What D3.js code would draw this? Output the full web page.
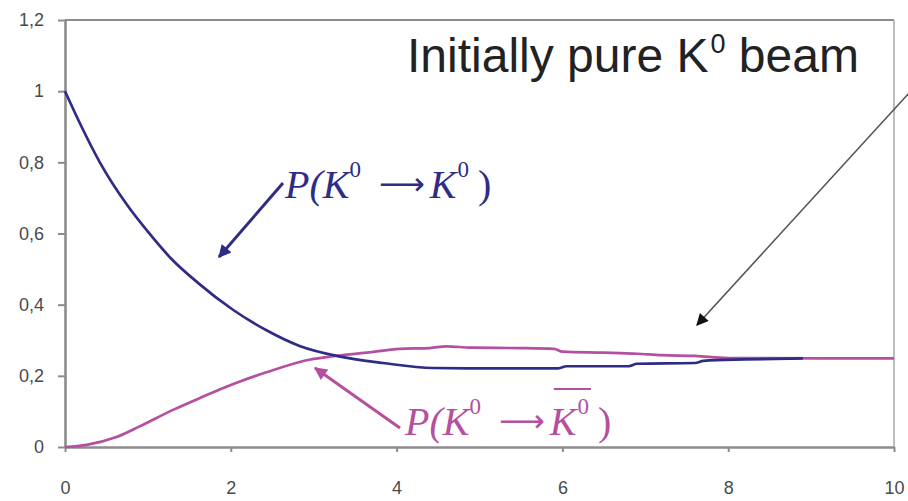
<!DOCTYPE html>
<html>
<head>
<meta charset="utf-8">
<script src="https://cdn.jsdelivr.net/npm/d3@7"></script>
<style>
  html, body { margin: 0; padding: 0; background: #ffffff; }
  svg { display: block; }
</style>
</head>
<body>
<svg id="chart" width="908" height="501"></svg>
<script>
// Time axis (units of K_S lifetime) and tick labels
const xTicks = [0, 2, 4, 6, 8, 10];
const xTickLabels = ["0", "2", "4", "6", "8", "10"];
const yTicks = [0, 0.2, 0.4, 0.6, 0.8, 1, 1.2];
const yTickLabels = ["0", "0,2", "0,4", "0,6", "0,8", "1", "1,2"];

// P(K0 -> K0)
const tSame = [0, 0.2, 0.42, 0.75, 1.0, 1.27, 1.6, 2.03, 2.43, 2.83, 3.32, 3.84, 4.44, 5.0, 5.95, 6.05, 6.8, 6.9, 7.6, 7.7, 8.2, 8.9];
const pSame = [1.0, 0.9, 0.8, 0.68, 0.605, 0.532, 0.462, 0.385, 0.328, 0.284, 0.254, 0.236, 0.222, 0.221, 0.221, 0.227, 0.227, 0.234, 0.236, 0.242, 0.246, 0.249];

// P(K0 -> K0bar)
const tMix = [0, 0.26, 0.62, 0.9, 1.31, 1.63, 2.03, 2.43, 2.96, 3.23, 3.64, 4.04, 4.4, 4.6, 4.9, 5.5, 5.9, 6.0, 6.5, 6.9, 7.2, 7.6, 8.0, 10];
const pMix = [0, 0.006, 0.028, 0.058, 0.105, 0.138, 0.177, 0.21, 0.246, 0.255, 0.265, 0.276, 0.278, 0.283, 0.279, 0.278, 0.276, 0.268, 0.265, 0.262, 0.258, 0.256, 0.25, 0.249];

const svg = d3.select("#chart");
const x = d3.scaleLinear().domain([0, 10]).range([65, 894]);
const y = d3.scaleLinear().domain([0, 1.2]).range([447, 20]);

const axisColor = "#8c8c8c";
const navy = "#2f2c86";
const magenta = "#b4509f";

// arrow heads
const defs = svg.append("defs");
function marker(id, color, w, h) {
  defs.append("marker")
    .attr("id", id)
    .attr("viewBox", "0 0 10 10")
    .attr("refX", 9).attr("refY", 5)
    .attr("markerUnits", "userSpaceOnUse")
    .attr("markerWidth", w).attr("markerHeight", h)
    .attr("orient", "auto")
    .append("path")
    .attr("d", "M0,0 L10,5 L0,10 Z")
    .attr("fill", color);
}
marker("headNavy", navy, 15, 13);
marker("headMag", magenta, 15, 13);
marker("headGray", "#111", 14, 12);

// frame: top and right borders
svg.append("line").attr("x1", x(0)).attr("x2", x(10)).attr("y1", y(1.2)).attr("y2", y(1.2))
  .attr("stroke", axisColor).attr("stroke-width", 2);
svg.append("line").attr("x1", x(10)).attr("x2", x(10)).attr("y1", y(1.2)).attr("y2", y(0))
  .attr("stroke", "#a8a8a8").attr("stroke-width", 1.5);

// axes
const yAxis = d3.axisLeft(y).tickValues(yTicks)
  .tickFormat((d, i) => yTickLabels[i]).tickSize(7).tickSizeOuter(0).tickPadding(14);
const xAxis = d3.axisBottom(x).tickValues(xTicks)
  .tickFormat((d, i) => xTickLabels[i]).tickSize(5).tickSizeOuter(0).tickPadding(29);

const gy = svg.append("g").attr("transform", `translate(${x(0)},0)`).call(yAxis);
const gx = svg.append("g").attr("transform", `translate(0,${y(0)})`).call(xAxis);
[gx, gy].forEach(g => {
  g.select(".domain").attr("stroke", axisColor).attr("stroke-width", 2.6);
  g.selectAll(".tick line").attr("stroke", axisColor).attr("stroke-width", 2);
  g.selectAll(".tick text")
    .attr("fill", "#4a4a4a")
    .attr("font-family", "'Liberation Sans', Arial, sans-serif")
    .attr("font-size", 18);
});

// curves
const line = d3.line().x(d => x(d[0])).y(d => y(d[1])).curve(d3.curveMonotoneX);
svg.append("path").datum(tMix.map((t, i) => [t, pMix[i]]))
  .attr("d", line).attr("fill", "none").attr("stroke", magenta).attr("stroke-width", 2.7);
svg.append("path").datum(tSame.map((t, i) => [t, pSame[i]]))
  .attr("d", line).attr("fill", "none").attr("stroke", navy).attr("stroke-width", 2.7);

// headline
const head = svg.append("text")
  .attr("x", 407).attr("y", 72)
  .attr("font-family", "'Liberation Sans', Arial, sans-serif")
  .attr("font-size", 48).attr("fill", "#222");
head.append("tspan").text("Initially pure K");
head.append("tspan").attr("font-size", 27).attr("dy", -19).attr("dx", 2).text("0");
head.append("tspan").attr("dy", 19).text(" beam");

// gray pointer from the headline
svg.append("line")
  .attr("x1", 910).attr("y1", 92).attr("x2", 697).attr("y2", 325)
  .attr("stroke", "#555").attr("stroke-width", 1.6)
  .attr("marker-end", "url(#headGray)");

// formula labels
function formula(xp, yp, color, barred) {
  const t = svg.append("text")
    .attr("x", xp).attr("y", yp)
    .attr("font-family", "'Liberation Serif', 'Times New Roman', serif")
    .attr("font-style", "italic")
    .attr("font-size", 40).attr("fill", color);
  t.append("tspan").text("P(K");
  t.append("tspan").attr("font-size", 23).attr("dy", -21).attr("font-style", "normal").text("0");
  t.append("tspan").attr("dy", 18).attr("dx", 18)
    .attr("font-family", "'DejaVu Sans', sans-serif").attr("font-style", "normal")
    .attr("font-size", 32).text("\u27F6");
  t.append("tspan").attr("dy", 3).attr("dx", 5).text("K");
  t.append("tspan").attr("font-size", 23).attr("dy", -21).attr("dx", 1).attr("font-style", "normal").text("0");
  t.append("tspan").attr("dy", 21).attr("dx", 9).attr("font-style", "normal").text(")");
  if (barred) {
    const n = t.node();
    const kIndex = 5; // P ( K 0 ⟶ K
    const x1 = n.getStartPositionOfChar(kIndex).x + 4;
    const x2 = n.getEndPositionOfChar(kIndex + 1).x + 2;
    svg.append("line").attr("x1", x1).attr("x2", x2)
      .attr("y1", yp - 46).attr("y2", yp - 46)
      .attr("stroke", color).attr("stroke-width", 2);
  }
  return t;
}
formula(285, 198, navy, false);
formula(405, 435, magenta, true);

// pointers from the formula labels to the curves
svg.append("line")
  .attr("x1", 283).attr("y1", 183).attr("x2", 219).attr("y2", 257)
  .attr("stroke", navy).attr("stroke-width", 3)
  .attr("marker-end", "url(#headNavy)");
svg.append("line")
  .attr("x1", 400).attr("y1", 428).attr("x2", 315).attr("y2", 368)
  .attr("stroke", magenta).attr("stroke-width", 3)
  .attr("marker-end", "url(#headMag)");
</script>
</body>
</html>
